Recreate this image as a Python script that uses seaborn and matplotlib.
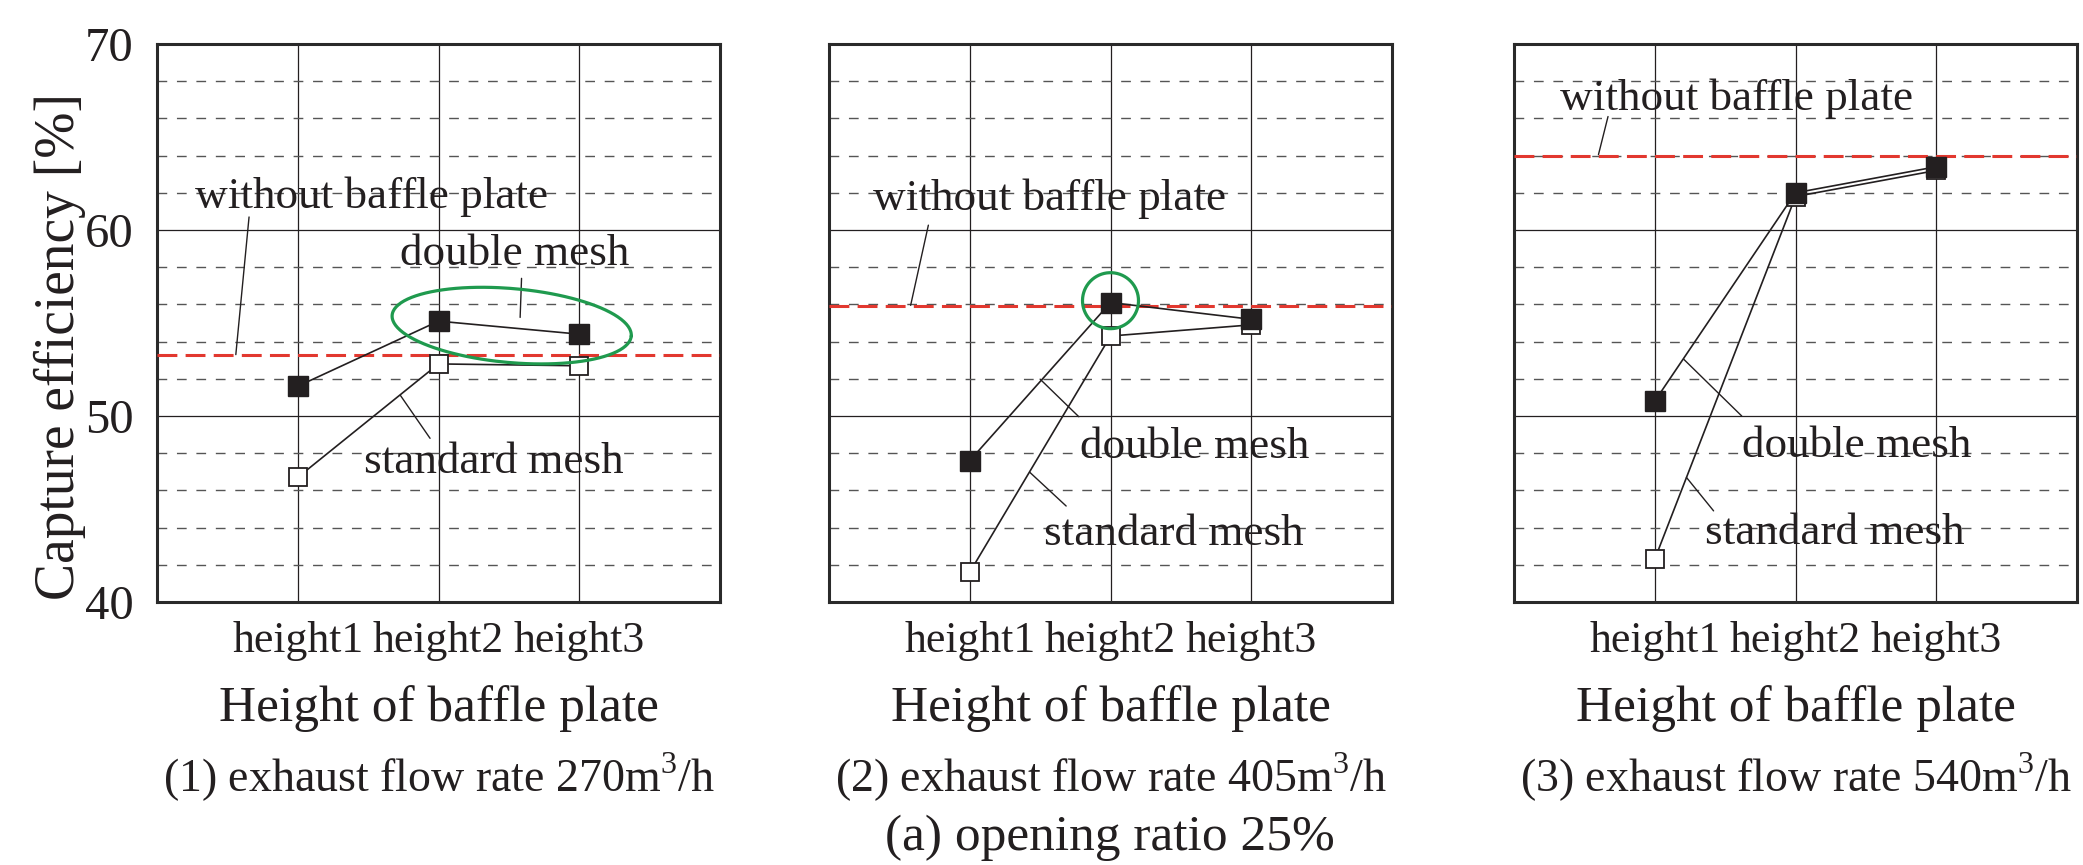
import numpy as np
import pandas as pd
import seaborn as sns
import matplotlib.pyplot as plt
from matplotlib.ticker import MultipleLocator

heights = ["height1", "height2", "height3"]
flow_rates = ["270", "405", "540"]
double_mesh = [
    [51.6, 55.1, 54.4],
    [47.6, 56.1, 55.2],
    [50.8, 62.0, 63.4],
]
standard_mesh = [
    [46.7, 52.8, 52.7],
    [41.6, 54.3, 54.9],
    [42.3, 61.8, 63.2],
]
without_baffle = [53.3, 55.9, 64.0]
y_ticks = [40, 50, 60, 70]

# annotation text anchors + leader lines (data units), per panel
labels = [
    [("without baffle plate", (0.27, 61.8), (0.654, 60.7), (0.56, 53.3)),
     ("double mesh", (1.73, 58.7), (2.59, 57.4), (2.58, 55.3)),
     ("standard mesh", (1.47, 47.5), (1.73, 51.1), (1.94, 48.8))],
    [("without baffle plate", (0.315, 61.7), (0.706, 60.26), (0.58, 55.95)),
     ("double mesh", (1.78, 48.36), (1.50, 51.98), (1.775, 49.96)),
     ("standard mesh", (1.525, 43.67), (1.427, 46.97), (1.685, 45.16))],
    [("without baffle plate", (0.33, 67.06), (0.668, 66.1), (0.60, 64.05)),
     ("double mesh", (1.62, 48.4), (1.206, 53.05), (1.618, 50.0)),
     ("standard mesh", (1.357, 43.7), (1.225, 46.7), (1.418, 44.9))],
]
# highlight rings: (center x, center y, half width px, half height px, tilt deg)
rings = [(2.52, 54.86, 120, 37, -5), (2.0, 56.2, 28, 28, 0), None]

ink = "#231f20"
red = "#e2382f"
green = "#1f9a4e"

sns.set_theme(style="white")
plt.rcParams["font.family"] = ["Liberation Serif", "DejaVu Serif"]
plt.rcParams["mathtext.fontset"] = "custom"
plt.rcParams["mathtext.rm"] = "Liberation Serif"

fig = plt.figure(figsize=(20.83, 8.65), dpi=100)
lefts = [157, 829, 1514]
W, H = 2083, 865
ax_w = 563
top, bottom = 44, 602
px_x = ax_w / 4.0
px_y = (bottom - top) / 30.0

for i in range(3):
    ax = fig.add_axes([lefts[i] / W, 1 - bottom / H, ax_w / W, (bottom - top) / H])
    df = pd.DataFrame({
        "pos": [1, 2, 3] * 2,
        "eff": standard_mesh[i] + double_mesh[i],
        "mesh": ["standard mesh"] * 3 + ["double mesh"] * 3,
    })
    ax.axhline(without_baffle[i], color=red, lw=2.2, ls=(0, (6.5, 2.7)), zorder=3)
    sns.lineplot(data=df[df["mesh"] == "standard mesh"], x="pos", y="eff", ax=ax,
                 color=ink, lw=1.2, marker="s", markersize=12.5,
                 markerfacecolor="white", markeredgecolor=ink, markeredgewidth=1.3,
                 zorder=4)
    sns.lineplot(data=df[df["mesh"] == "double mesh"], x="pos", y="eff", ax=ax,
                 color=ink, lw=1.2, marker="s", markersize=14,
                 markerfacecolor=ink, markeredgecolor=ink, markeredgewidth=1.0,
                 zorder=5)

    ax.set_xlim(0, 4)
    ax.set_ylim(40, 70)
    ax.set_xticks([1, 2, 3], heights)
    ax.set_yticks(y_ticks)
    ax.yaxis.set_minor_locator(MultipleLocator(2))
    ax.grid(axis="x", which="major", color=ink, lw=0.9, ls="-")
    ax.grid(axis="y", which="major", color=ink, lw=0.9, ls="-")
    ax.grid(axis="y", which="minor", color="#555555", lw=1.0, ls=(0, (7, 7)))
    ax.set_axisbelow(True)
    ax.tick_params(axis="x", length=0, pad=14, labelsize=31.5, colors=ink)
    ax.tick_params(axis="y", which="both", length=0, pad=17, labelsize=35,
                   colors=ink, labelleft=(i == 0))
    ax.set_xlabel("")
    ax.set_ylabel("")
    for s in ax.spines.values():
        s.set_visible(True)
        s.set_color("#2a2a2a")
        s.set_linewidth(2.2)

    for txt, (tx, ty), p0, p1 in labels[i]:
        ax.text(tx, ty, txt, fontsize=32.5, color=ink, ha="left", va="center", zorder=6)
        ax.plot([p0[0], p1[0]], [p0[1], p1[1]], color=ink, lw=1.0, zorder=6)

    if rings[i] is not None:
        cx, cy, a, b, th = rings[i]
        t = np.linspace(0, 2 * np.pi, 200)
        r = np.deg2rad(th)
        ex = a * np.cos(t) * np.cos(r) - b * np.sin(t) * np.sin(r)
        ey = a * np.cos(t) * np.sin(r) + b * np.sin(t) * np.cos(r)
        ax.plot(cx + ex / px_x, cy + ey / px_y, color=green, lw=2.3, zorder=7)

    ax.text(0.5, -0.19, "Height of baffle plate", transform=ax.transAxes,
            fontsize=37, color=ink, ha="center", va="center")
    ax.text(0.5, -0.314, "(%d) exhaust flow rate %sm$^{3}$/h" % (i + 1, flow_rates[i]),
            transform=ax.transAxes, fontsize=33, color=ink, ha="center", va="center")

fig.text(60 / W, 1 - 347 / H, "Capture efficiency [%]", rotation=90, fontsize=40,
         color=ink, ha="center", va="center")
fig.text(1110 / W, 1 - 838 / H, "(a) opening ratio 25%", fontsize=37, color=ink,
         ha="center", va="center")

fig.savefig("out.png", dpi=100, facecolor="white")
